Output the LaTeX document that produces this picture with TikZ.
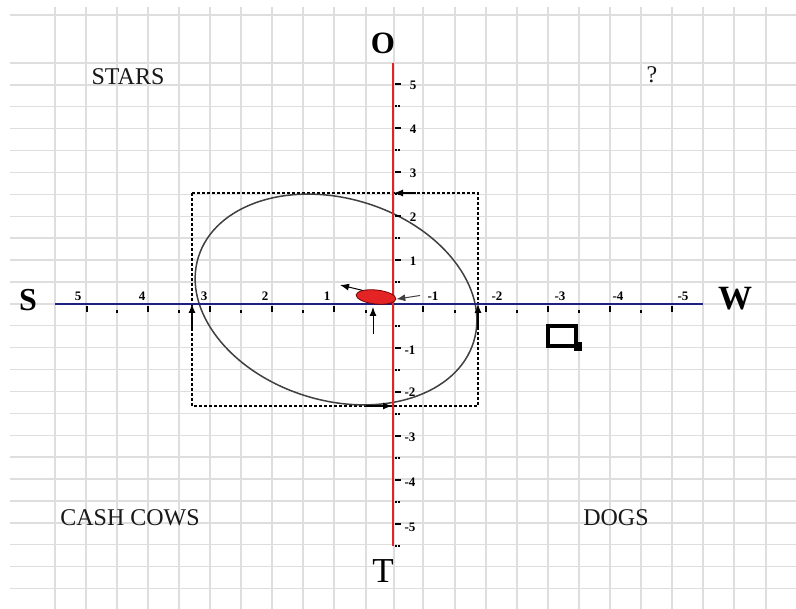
\documentclass[tikz,border=0pt]{standalone}
\usepackage{fontspec}
\setmainfont{Liberation Serif}
\usetikzlibrary{arrows.meta,shapes.geometric}
\definecolor{gridgray}{RGB}{222,222,222}
\definecolor{axisred}{RGB}{228,36,36}
\definecolor{axisnavy}{RGB}{32,32,130}

\begin{document}
\begin{tikzpicture}[x=1pt,y=-1pt,
    arr/.style={-{Latex[length=9pt,width=7pt]},line width=1.1pt},
    quad/.style={font=\fontsize{24}{24}\selectfont,text=black!90},
    pole/.style={font=\fontsize{32}{32}\selectfont\bfseries},
    num/.style={font=\fontsize{13}{13}\selectfont\bfseries,inner sep=0pt}]
  \useasboundingbox[fill=white] (0,0) rectangle (796,609);
  % grid
  \foreach \gx in {55,86,117,148,179,210,241,272,303,334,366,394,423,455,486,517,548,579,610,641,672,703,734,766}
    \draw[gridgray,line width=1.4pt] (\gx,7) -- (\gx,609);
  \draw[gridgray,line width=1.4pt] (10,15) -- (796,15);
  \foreach \k in {0,...,24}
    \draw[gridgray,line width=1.4pt] (10,{63+21.9*\k}) -- (796,{63+21.9*\k});
  % box and orbit
  \coordinate (tl) at (192,193);
  \coordinate (br) at (478,406);
  \draw[line width=1.1pt,dash pattern=on 3pt off 2pt] (tl) rectangle (br);
  \draw[line width=1.5pt,black!75,shift={(336,299.5)},rotate=-17] (0,0) ellipse [x radius=144,y radius=101];
  % axes
  \draw[axisnavy,line width=2.6pt] (55,304) -- (703,304);
  \draw[axisred,line width=2.6pt] (393,63) -- (393,546);
  \foreach \tx in {87,148,210,272,334,423,486,548,610,672}
    \draw[line width=1.1pt] (\tx,306) -- (\tx,312);
  \foreach \tx in {117,179,241,303,366,455,517,579,641}
    \fill (\tx-0.8,310) rectangle (\tx+0.8,313);
  \foreach \ty in {84,128,172,216,260,348,392,436,480,524}
    \draw[line width=1.1pt] (395,\ty) -- (401,\ty);
  \foreach \ty in {106,150,194,238,282,326,370,414,458,502,546}
    \draw[line width=1.3pt,dash pattern=on 1.5pt off 1.5pt] (395,\ty) -- (401,\ty);
  \foreach \lx/\lt in {78/5,142/4,204/3,265/2,327/1,433/-1,497/-2,560/-3,618/-4,683/-5}
    \node[num] at (\lx,296) {\lt};
  \foreach \ly/\lt in {85/5,129/4,173/3,217/2,261/1}
    \node[num] at (413,\ly) {\lt};
  \foreach \ly/\lt in {350/-1,392/-2,437/-3,482/-4,527/-5}
    \node[num] at (410,\ly) {\lt};
  % poles and quadrants
  \node[pole,font=\fontsize{31}{31}\selectfont\bfseries] (O) at (383,43) {O};
  \node[pole] (S) at (28,300) {S};
  \node[pole,font=\fontsize{34}{34}\selectfont\bfseries] (W) at (735,299) {W};
  \node[font=\fontsize{35}{35}\selectfont] (T) at (383,571) {T};
  \node[quad] (stars) at (128,77) {STARS};
  \node[quad] (qmark) at (652,75) {?};
  \node[quad] (cows) at (130,518) {CASH COWS};
  \node[quad] (dogs) at (616,518) {DOGS};
  % arrows on the box
  \coordinate (topA) at (416,193);
  \coordinate (topB) at (394,193);
  \coordinate (botA) at (366,406);
  \coordinate (botB) at (392,406);
  \coordinate (lftA) at (192,328);
  \coordinate (lftB) at (192,304);
  \coordinate (rgtA) at (478,328);
  \coordinate (rgtB) at (478,304);
  \draw[arr] (topA) -- (topB);
  \draw[arr] (botA) -- (botB);
  \draw[arr] (lftA) -- (lftB);
  \draw[arr] (rgtA) -- (rgtB);
  % product marker
  \node[ellipse,fill=axisred,draw=red!45!black,line width=0.8pt,minimum width=40pt,minimum height=14pt,inner sep=0pt,rotate=-6] (blob) at (376,297) {};
  \coordinate (drift) at (340,285);
  \coordinate (push) at (420,295.5);
  \coordinate (liftA) at (373,334);
  \coordinate (liftB) at (373,307);
  \draw[arr,line width=1pt] (blob.north west) -- (drift);
  \draw[arr,line width=1pt,black!75] (push) -- (blob.east);
  \draw[arr,line width=1pt] (liftA) -- (liftB);
  % square icon
  \draw[line width=4pt] (548,326) rectangle (576,346);
  \fill (574,342) rectangle (582,351);
\end{tikzpicture}
\end{document}
